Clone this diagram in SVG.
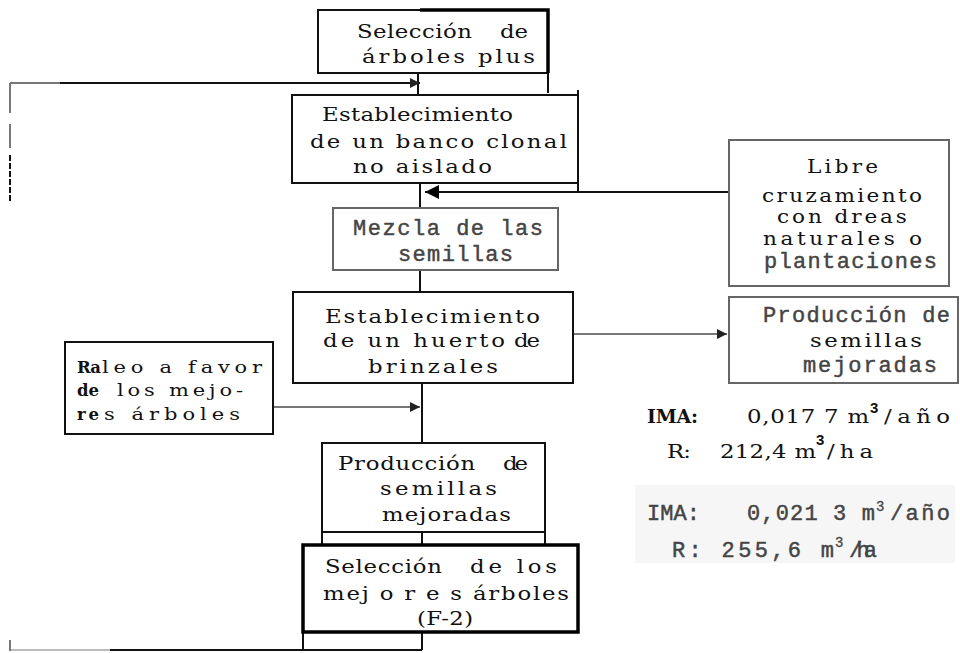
<svg xmlns="http://www.w3.org/2000/svg" width="960" height="653" viewBox="0 0 960 653">
<style>
.serif{font-family:"DejaVu Serif","Liberation Serif",serif;font-size:19px;fill:#111}
.w{transform:scale(1.2,1)}
.small{font-size:18px}
.rl{font-size:17.5px}
.bd{font-family:"DejaVu Serif","Liberation Serif",serif;font-size:16.5px;font-weight:bold;fill:#111}
.mono{font-family:"Liberation Mono","Courier New",monospace;font-size:22px;fill:#444;stroke:#444;stroke-width:0.45}
.sup{font-family:"Liberation Sans",Arial,sans-serif;font-size:15px;font-weight:bold;fill:#111}
.supm{font-family:"Liberation Mono",monospace;font-size:14px;fill:#444;stroke:#444;stroke-width:0.3}
.box{fill:#fff;stroke:#111;stroke-width:2}
.gbox{fill:#fff;stroke:#666;stroke-width:2}
.thick{fill:#fff;stroke:#000;stroke-width:3.5}
.ln{fill:none;stroke:#111;stroke-width:2}
.gln{fill:none;stroke:#777;stroke-width:2}
</style>
<defs>
<marker id="ah" viewBox="0 0 10 10" refX="10" refY="5" markerWidth="5" markerHeight="5" markerUnits="strokeWidth" orient="auto">
<path d="M0,0 L10,5 L0,10 z" fill="#222"/>
</marker>
<marker id="ahb" viewBox="0 0 10 10" refX="10" refY="5" markerWidth="7" markerHeight="7" markerUnits="strokeWidth" orient="auto">
<path d="M0,0 L10,5 L0,10 z" fill="#000"/>
</marker>
</defs>
<rect width="960" height="653" fill="#fff"/>
<rect x="635" y="485" width="320" height="78" fill="#f6f6f6"/>

<g id="connectors">
<path class="ln" d="M418,73 V95"/>
<path class="ln" d="M548,73 V93"/>
<path class="gln" d="M10,83 H60"/>
<path class="ln" d="M60,83 H420" marker-end="url(#ah)"/>
<path class="gln" d="M10,83 V113"/>
<path class="gln" d="M10,124 V148"/>
<path class="ln" d="M10,155 V202" stroke-dasharray="6,2"/>
<path class="ln" d="M578,90 V192"/>
<path class="ln" d="M729,192 H425" marker-end="url(#ahb)"/>
<path class="ln" d="M420,183 V208"/>
<path class="ln" d="M420,270 V292"/>
<path class="gln" d="M573,334 H727" marker-end="url(#ah)"/>
<path class="gln" d="M273,407 H420" marker-end="url(#ah)"/>
<path class="ln" d="M422,383 V443"/>
<path class="ln" d="M322,532 V545 M545,532 V545 M422,532 V545"/>
<path class="ln" d="M303,632 V650 M422,632 V650"/>
<path class="ln" d="M110,650 H422"/>
<path fill="none" stroke="#bbb" stroke-width="2" d="M10,650 H110"/>
<path class="gln" d="M10,640 V651"/>
</g>

<g id="n-seleccion-plus">
<rect class="box" x="318" y="10" width="230" height="63"/>
<path fill="none" stroke="#000" stroke-width="3.5" d="M420,10 H548 V73"/>
<text class="serif w" x="297.5" y="38" textLength="95.8" lengthAdjust="spacing">Selección</text>
<text class="serif w" x="416.7" y="38" textLength="23.3" lengthAdjust="spacing">de</text>
<text class="serif w" x="301.7" y="63" textLength="144.2" lengthAdjust="spacing">árboles plus</text>
</g>

<g id="n-banco">
<rect class="box" x="292" y="95" width="286" height="88"/>
<text class="serif w" x="268.3" y="121" textLength="159.2" lengthAdjust="spacing">Establecimiento</text>
<text class="serif w" x="258.3" y="148" textLength="214.2" lengthAdjust="spacing">de un banco clonal</text>
<text class="serif w" x="294.2" y="173" textLength="115.8" lengthAdjust="spacing">no aislado</text>
</g>

<g id="n-mezcla">
<rect class="gbox" x="333" y="208" width="225" height="62"/>
<text class="mono" x="353" y="235" textLength="190" lengthAdjust="spacing">Mezcla de las</text>
<text class="mono" x="398" y="261" textLength="115" lengthAdjust="spacing">semillas</text>
</g>

<g id="n-libre">
<rect class="gbox" x="729" y="140" width="220" height="146"/>
<text class="serif small w" x="672.5" y="173" textLength="59.2" lengthAdjust="spacing">Libre</text>
<text class="serif small w" x="635" y="202" textLength="133.3" lengthAdjust="spacing">cruzamiento</text>
<text class="serif small w" x="647.5" y="223" textLength="108.3" lengthAdjust="spacing">con dreas</text>
<text class="serif small w" x="635.8" y="245" textLength="132.5" lengthAdjust="spacing">naturales o</text>
<text class="mono" x="764" y="268" textLength="173" lengthAdjust="spacing">plantaciones</text>
</g>

<g id="n-huerto">
<rect class="box" x="293" y="292" width="280" height="91"/>
<text class="serif w" x="270.8" y="323" textLength="179.2" lengthAdjust="spacing">Establecimiento</text>
<text class="serif w" x="269.2" y="347" textLength="151.7" lengthAdjust="spacing">de un huerto</text>
<text class="serif w" x="428.3" y="347" textLength="21.7" lengthAdjust="spacing">de</text>
<text class="serif w" x="306.7" y="373" textLength="108.3" lengthAdjust="spacing">brinzales</text>
</g>

<g id="n-produccion-derecha">
<rect class="gbox" x="729" y="297" width="229" height="86"/>
<text class="mono" x="763" y="322" textLength="187" lengthAdjust="spacing" font-size="20">Producción de</text>
<text class="serif w" x="675" y="347" textLength="93.3" lengthAdjust="spacing">semillas</text>
<text class="mono" x="803" y="372" textLength="134" lengthAdjust="spacing" font-size="20">mejoradas</text>
</g>

<g id="n-raleo">
<rect class="box" x="65" y="342" width="208" height="92"/>
<text class="bd" x="77" y="373" textLength="24" lengthAdjust="spacing">Ra</text>
<text class="serif rl w" x="85" y="373" textLength="133.3" lengthAdjust="spacing">leo a favor</text>
<text class="bd" x="77" y="396" textLength="22" lengthAdjust="spacing">de</text>
<text class="serif rl w" x="97.5" y="396" textLength="105" lengthAdjust="spacing">los mejo-</text>
<text class="bd" x="77" y="420" textLength="22" lengthAdjust="spacing">re</text>
<text class="serif rl w" x="86.7" y="420" textLength="113.3" lengthAdjust="spacing">s árboles</text>
</g>

<g id="n-ima-1">
<text class="serif" x="647" y="423" textLength="51" lengthAdjust="spacing" font-weight="bold" font-size="18">IMA:</text>
<text class="serif w" x="622.5" y="423" textLength="101.7" lengthAdjust="spacing">0,017 7 m</text>
<text class="sup" x="870" y="413">3</text>
<text class="serif w" x="736.7" y="423" textLength="55" lengthAdjust="spacing">/año</text>
<text class="serif w" x="555.8" y="458" textLength="20" lengthAdjust="spacing">R:</text>
<text class="serif w" x="600" y="458" textLength="80" lengthAdjust="spacing">212,4 m</text>
<text class="sup" x="816" y="445">3</text>
<text class="serif w" x="689.2" y="458" textLength="38.3" lengthAdjust="spacing">/ha</text>
</g>

<g id="n-ima-2">
<text class="mono" x="647" y="520" textLength="53" lengthAdjust="spacing" font-size="20">IMA:</text>
<text class="mono" x="747" y="520" textLength="128" lengthAdjust="spacing" font-size="20">0,021 3 m</text>
<text class="supm" x="876" y="511">3</text>
<text class="mono" x="890" y="520" textLength="60" lengthAdjust="spacing" font-size="20">/año</text>
<text class="mono" x="672" y="557" textLength="162" lengthAdjust="spacing" font-size="20">R: 255,6 m</text>
<text class="supm" x="835" y="547">3</text>
<text class="mono" x="849" y="557" textLength="28" lengthAdjust="spacing" font-size="20">/ha</text>
</g>

<g id="n-produccion">
<rect class="box" x="322" y="443" width="223" height="89"/>
<text class="serif w" x="281.7" y="470" textLength="114.2" lengthAdjust="spacing">Producción</text>
<text class="serif w" x="419.2" y="470" textLength="20.8" lengthAdjust="spacing">de</text>
<text class="serif w" x="316.7" y="495" textLength="97.5" lengthAdjust="spacing">semillas</text>
<text class="serif w" x="318.3" y="521" textLength="107.5" lengthAdjust="spacing">mejoradas</text>
</g>

<g id="n-seleccion-f2">
<rect class="thick" x="303" y="545" width="275" height="87"/>
<text class="serif w" x="270.8" y="573" textLength="97.5" lengthAdjust="spacing">Selección</text>
<text class="serif w" x="391.7" y="573" textLength="72.5" lengthAdjust="spacing">de los</text>
<text class="serif w" x="269.2" y="600" textLength="205" lengthAdjust="spacing">mej o r e s árboles</text>
<text class="serif w" x="347.5" y="625" textLength="46.7" lengthAdjust="spacing">(F-2)</text>
</g>
</svg>
